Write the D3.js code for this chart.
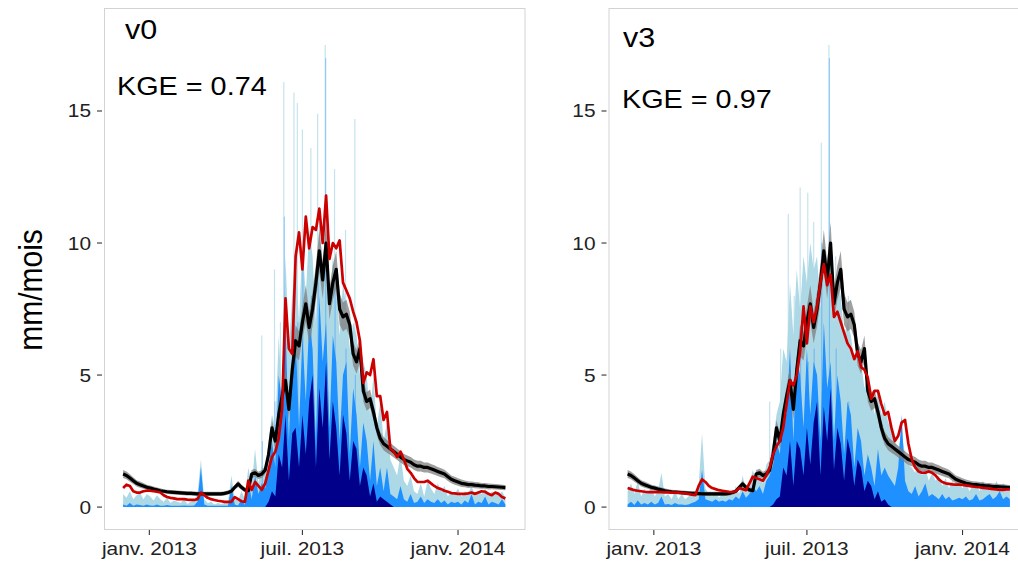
<!DOCTYPE html>
<html><head><meta charset="utf-8">
<script src="https://cdn.jsdelivr.net/npm/d3@7"></script>
<style>body{margin:0;background:#fff} text{font-family:"Liberation Sans",Arial,Helvetica,sans-serif}</style>
</head><body><svg id="c" width="1018" height="562"></svg>
<script>
// ---- data (4-day steps starting 2012-12-01) ----
const startDate = "2012-12-01";
const stepDays = 4;
const xTickDates = ["2013-01-01","2013-07-01","2014-01-01"];
const xTickLabels = ["janv. 2013","juil. 2013","janv. 2014"];
const yTicks = [0,5,10,15];
const panelNames = ["v0","v3"];
const kgeLabels = ["KGE = 0.74","KGE = 0.97"];
const yTitle = "mm/mois";

const obs = [
1.25,1.2,1.1,1.0,0.9,0.85,0.8,0.75,
0.72,0.68,0.65,0.62,0.6,0.58,0.57,0.56,
0.55,0.54,0.53,0.52,0.52,0.51,0.5,
0.5,0.5,0.5,0.5,0.5,0.5,0.5,
0.52,0.55,0.6,0.75,0.88,0.75,0.65,0.62,
1.25,1.3,1.2,1.25,1.4,2.0,3.0,
2.5,3.5,4.2,4.8,3.7,5.2,6.3,6.1,
7.0,7.7,6.8,7.5,8.5,9.7,8.6,10.0,
7.7,8.5,9.0,7.5,7.2,7.3,6.9,5.8,
5.5,6.0,4.4,4.0,4.1,3.6,3.0,2.6,
2.4,2.3,2.2,2.1,2.0,1.9,1.8,
1.75,1.7,1.6,1.55,1.55,1.5,1.5,
1.45,1.4,1.35,1.3,1.25,1.15,1.05,1.0,
0.95,0.9,0.88,0.85,0.85,0.83,0.82,0.8,
0.8,0.78,0.78,0.77,0.76,0.75,0.74];

const obsSpread = [
0.15,0.15,0.14,0.13,0.12,0.12,0.11,0.1,
0.1,0.1,0.09,0.09,0.08,0.08,0.08,0.08,
0.08,0.08,0.08,0.08,0.08,0.08,0.08,
0.08,0.08,0.08,0.08,0.08,0.08,0.08,
0.08,0.08,0.08,0.09,0.12,0.1,0.09,0.09,
0.15,0.15,0.14,0.15,0.16,0.22,0.3,
0.28,0.35,0.4,0.45,0.38,0.5,0.6,0.55,
0.6,0.7,0.6,0.65,0.7,0.8,0.7,0.8,
0.6,0.65,0.7,0.6,0.55,0.55,0.5,0.45,
0.45,0.5,0.4,0.35,0.35,0.3,0.28,0.25,
0.25,0.24,0.23,0.22,0.22,0.21,0.21,
0.2,0.2,0.2,0.2,0.2,0.19,0.19,
0.18,0.18,0.17,0.17,0.16,0.16,0.15,0.15,
0.14,0.14,0.13,0.13,0.12,0.12,0.12,0.11,
0.11,0.11,0.1,0.1,0.1,0.1,0.1];

const simV0 = [
0.72,0.85,0.8,0.6,0.55,0.55,0.6,0.62,
0.62,0.6,0.58,0.55,0.45,0.38,0.35,0.33,
0.3,0.3,0.3,0.28,0.27,0.27,0.3,
0.55,0.45,0.35,0.3,0.27,0.24,0.22,
0.2,0.2,0.2,0.38,0.3,0.22,0.2,1.0,
0.65,0.95,0.8,0.65,0.9,1.4,1.9,
2.1,2.6,3.7,7.9,6.0,5.8,9.5,10.4,
9.0,11.0,9.8,10.6,10.5,11.3,10.0,11.8,
9.4,10.0,9.8,10.1,8.5,8.2,7.9,7.4,
7.0,6.3,4.7,5.1,5.0,5.6,4.2,4.2,
3.3,3.6,2.2,2.1,1.9,2.1,1.8,
1.45,1.3,1.1,0.95,0.95,0.95,1.0,
0.9,0.8,0.72,0.68,0.62,0.58,0.53,0.52,
0.5,0.5,0.5,0.52,0.55,0.5,0.55,0.6,
0.58,0.5,0.45,0.55,0.5,0.38,0.33];

const simV3 = [
0.72,0.68,0.64,0.62,0.6,0.58,0.57,0.57,
0.57,0.57,0.57,0.56,0.56,0.55,0.55,0.55,
0.54,0.52,0.5,0.47,0.45,0.8,1.05,
0.95,0.8,0.72,0.68,0.64,0.62,0.6,
0.58,0.57,0.6,0.72,0.68,0.64,0.9,1.15,
1.1,1.05,1.0,1.2,1.5,2.0,2.3,
2.5,3.0,3.9,4.8,4.6,5.0,5.9,7.6,
6.2,7.6,7.0,7.6,8.5,9.2,8.4,8.8,
7.2,7.4,7.0,6.6,6.2,6.0,5.6,5.9,
5.3,5.2,4.9,4.1,4.4,4.4,3.9,3.5,
3.6,3.0,2.5,2.7,3.2,3.3,2.4,
1.8,1.5,1.35,1.3,1.3,1.35,1.3,
1.2,1.05,0.95,0.9,0.88,0.86,0.85,0.85,
0.84,0.82,0.8,0.78,0.76,0.75,0.73,0.72,
0.7,0.68,0.67,0.65,0.65,0.67,0.67];

const lightV0 = [
0.5,0.35,0.6,0.3,0.45,0.55,0.3,0.5,
0.4,0.25,0.45,0.3,0.2,0.35,0.15,0.25,
0.2,0.15,0.3,0.12,0.2,0.25,0.5,
1.8,0.3,0.15,0.2,0.1,0.15,0.12,
0.15,0.2,1.2,0.3,0.25,0.6,0.3,1.5,
0.8,2.2,0.9,1.6,1.2,2.5,3.5,
3.0,6.5,4.0,9.5,6.0,8.0,9.5,7.0,
10.0,8.0,10.5,9.5,7.0,11.0,9.0,10.5,
7.5,9.5,8.5,6.5,8.5,7.5,6.0,7.0,
6.5,5.0,5.5,5.0,3.5,5.0,3.0,4.0,
2.5,3.2,1.8,1.5,1.2,2.0,1.0,
0.8,1.2,0.6,0.5,0.9,0.4,1.0,
0.7,0.5,0.9,0.6,0.8,0.4,0.6,0.5,
0.7,0.4,0.6,0.5,0.8,0.4,0.6,0.5,
0.7,0.4,0.6,0.5,0.45,0.6,0.35];

const dodgerV0 = [
0.1,0.05,0.15,0.05,0.1,0.08,0.05,0.1,
0.06,0.05,0.1,0.05,0.05,0.08,0.05,0.05,
0.05,0.05,0.06,0.05,0.05,0.06,0.2,
1.5,0.1,0.05,0.05,0.05,0.05,0.05,
0.05,0.05,0.8,0.1,0.06,0.3,0.08,1.0,
0.3,1.2,0.5,0.9,0.7,1.5,2.5,
1.5,5.0,4.0,7.0,2.5,6.0,6.5,3.0,
6.5,4.0,7.0,6.0,2.5,8.0,5.5,7.0,
3.0,6.5,5.5,2.5,5.0,5.5,2.0,4.5,
3.5,1.5,3.2,2.5,1.0,2.5,0.8,1.5,
0.6,1.5,0.5,0.4,0.3,0.8,0.3,
0.2,0.5,0.15,0.2,0.4,0.15,0.3,
0.2,0.15,0.3,0.15,0.25,0.1,0.2,0.15,
0.2,0.1,0.25,0.15,0.5,0.1,0.2,0.15,
0.4,0.1,0.2,0.15,0.1,0.3,0.1];

const navyV0 = [
0,0,0,0,0,0,0,0,
0,0,0,0,0,0,0,0,
0,0,0,0,0,0,0,
0,0,0,0,0,0,0,
0,0,0,0,0,0,0,0,
0,0,0,0,0,0.2,0.6,
0.4,2.0,1.5,3.5,1.0,2.8,3.0,1.5,
3.5,2.0,4.0,5.0,1.5,4.5,3.0,5.5,
1.8,4.0,3.0,1.2,3.5,2.8,1.0,2.5,
2.2,0.8,1.5,1.2,0.4,0.9,0.2,0.4,
0.3,0.2,0.1,0,0,0,0,
0,0,0,0,0,0,0,
0,0,0,0,0,0,0,0,
0,0,0,0,0,0,0,0,
0,0,0,0,0,0,0];

const lightV3 = [
0.6,0.9,0.5,1.0,0.4,0.7,0.5,0.8,
0.4,0.6,1.3,0.4,0.5,0.3,0.6,0.3,
0.5,0.3,0.4,0.6,0.35,0.8,2.8,
0.7,0.5,0.4,0.6,0.35,0.5,0.4,
0.6,0.45,0.8,0.5,1.2,0.6,0.9,1.4,
1.0,1.3,0.9,1.6,1.8,2.5,3.5,
4.0,6.0,5.5,8.5,6.5,9.0,7.5,9.5,
8.5,10.0,9.0,9.5,7.5,10.0,9.0,9.5,
7.0,8.5,8.0,6.5,7.0,6.5,5.5,6.0,
5.5,4.5,5.0,4.5,3.5,4.5,3.5,4.0,
3.2,3.0,2.5,2.2,2.8,2.0,1.6,
1.5,1.3,1.8,1.2,1.5,1.0,1.3,
1.0,1.2,0.8,1.1,0.7,1.0,0.8,0.9,
0.7,1.0,0.6,0.8,0.9,0.6,1.0,0.7,
0.8,0.6,1.0,0.7,0.9,0.8,0.6];

const dodgerV3 = [
0.1,0.2,0.08,0.25,0.1,0.15,0.1,0.2,
0.1,0.15,0.4,0.1,0.12,0.08,0.15,0.1,
0.1,0.08,0.1,0.15,0.2,0.3,1.4,
0.3,0.25,0.2,0.3,0.2,0.25,0.2,
0.3,0.25,0.4,0.3,0.6,0.35,0.5,0.8,
0.6,0.8,0.5,1.0,1.2,1.6,2.5,
2.0,3.8,3.5,6.0,2.5,5.5,5.0,3.0,
6.0,3.5,5.5,5.0,2.5,7.0,4.5,5.5,
2.5,5.0,4.0,2.0,4.0,3.5,1.5,3.0,
2.5,1.2,2.0,1.5,0.8,2.2,1.2,1.5,
1.2,1.0,0.8,1.5,3.5,1.0,0.6,
0.5,0.8,0.4,0.6,0.9,0.4,0.5,
0.4,0.3,0.5,0.3,0.4,0.25,0.3,0.35,
0.3,0.4,0.25,0.3,0.5,0.25,0.3,0.4,
0.5,0.3,0.4,0.6,0.3,0.4,0.3];

const navyV3 = [
0,0,0,0,0,0,0,0,
0,0,0,0,0,0,0,0,
0,0,0,0,0,0,0,
0,0,0,0,0,0,0,
0,0,0,0,0,0,0,0,
0,0,0,0,0,0.1,0.3,
0.4,1.5,1.2,2.5,0.8,2.5,2.2,1.2,
3.0,1.6,3.2,4.0,1.2,3.8,2.5,4.5,
1.4,3.0,2.4,1.0,2.6,2.0,0.8,1.8,
1.5,0.6,1.0,0.8,0.3,0.6,0.2,0.3,
0.1,0,0,0,0,0,0,
0,0,0,0,0,0,0,
0,0,0,0,0,0,0,0,
0,0,0,0,0,0,0,0,
0,0,0,0,0,0,0];

// thin daily peaks (faint spikes)
const spikeDatesV0 = ["2013-05-14","2013-05-29","2013-06-05","2013-06-09","2013-06-21","2013-06-25","2013-07-01","2013-07-11","2013-07-19","2013-07-28","2013-08-08","2013-08-21","2013-09-01"];
const spikeLightV0 = [6.5,9.0,7.0,16.1,15.7,15.3,14.3,13.6,14.9,17.5,12.8,10.5,14.7];
const spikeDodgerV0 = [2.5,4.0,3.5,11.0,8.0,7.0,9.0,8.0,8.5,17.0,9.0,6.0,5.0];
const spikeDatesV3 = ["2013-05-18","2013-05-31","2013-06-09","2013-06-16","2013-06-23","2013-07-02","2013-07-09","2013-07-18","2013-07-27","2013-08-04","2013-08-19"];
const spikeLightV3 = [4.0,6.0,11.1,8.0,12.1,11.9,10.8,13.8,17.5,9.5,8.0];
const spikeDodgerV3 = [1.5,3.0,5.0,4.0,6.0,5.5,6.0,10.0,17.0,6.0,4.0];

// ---- drawing ----
const parse = d3.utcParse("%Y-%m-%d");
const t0 = parse(startDate);
const dates = obs.map((_, i) => d3.utcDay.offset(t0, i * stepDays));
const svg = d3.select("#c");
const SX = 1.13; // horizontal stretch of the reference text

const panelW = 420.5, panelTop = 8, panelBottom = 529;
const panels = [
  {x0: 104, name: panelNames[0], kge: kgeLabels[0], sim: simV0, light: lightV0, dodger: dodgerV0, navy: navyV0,
   sd: spikeDatesV0, sl: spikeLightV0, sdg: spikeDodgerV0, nameY: 39, kgeY: 95, nameX: 125, kgeX: 117},
  {x0: 608.5, name: panelNames[1], kge: kgeLabels[1], sim: simV3, light: lightV3, dodger: dodgerV3, navy: navyV3,
   sd: spikeDatesV3, sl: spikeLightV3, sdg: spikeDodgerV3, nameY: 47, kgeY: 108, nameX: 623, kgeX: 622}
];

const ext = d3.extent(dates);
const span = ext[1] - ext[0];
const xDomain = [new Date(+ext[0] - 0.05 * span), new Date(+ext[1] + 0.05 * span)];
const y = d3.scaleLinear().domain([-0.83, 18.9]).range([panelBottom, panelTop]);

const cLight = "#ADD8E6", cDodger = "#1E90FF", cNavy = "#00008B", cRed = "#CD0000";

function stext(parent, x, yy, str, size, anchor, fill) {
  return parent.append("text").attr("transform", `translate(${x},${yy}) scale(${SX},1)`)
    .attr("text-anchor", anchor).attr("font-size", size).attr("fill", fill).text(str);
}

panels.forEach((p, k) => {
  const x = d3.scaleUtc().domain(xDomain).range([p.x0, p.x0 + panelW]);
  const g = svg.append("g");
  const clipId = "clip" + k;
  svg.append("clipPath").attr("id", clipId).append("rect")
    .attr("x", p.x0).attr("y", panelTop).attr("width", panelW).attr("height", panelBottom - panelTop);
  const pg = g.append("g").attr("clip-path", `url(#${clipId})`);

  const area = arr => d3.area().x((d, i) => x(dates[i])).y0(y(0)).y1(d => y(d))(arr);
  pg.append("path").attr("d", area(p.light)).attr("fill", cLight);
  p.sd.forEach((ds, j) => {
    const xx = x(parse(ds));
    pg.append("line").attr("x1", xx).attr("x2", xx).attr("y1", y(0)).attr("y2", y(p.sl[j]))
      .attr("stroke", cLight).attr("stroke-width", 1.2).attr("opacity", 0.7);
    pg.append("line").attr("x1", xx + 0.5).attr("x2", xx + 0.5).attr("y1", y(0)).attr("y2", y(p.sdg[j]))
      .attr("stroke", cDodger).attr("stroke-width", 0.9).attr("opacity", 0.5);
  });
  pg.append("path").attr("d", area(p.dodger)).attr("fill", cDodger);
  pg.append("path").attr("d", area(p.navy)).attr("fill", cNavy);

  const ribbon = d3.area().x((d, i) => x(dates[i]))
    .y0((d, i) => y(d - obsSpread[i])).y1((d, i) => y(d + obsSpread[i]));
  pg.append("path").attr("d", ribbon(obs)).attr("fill", "#7f7f7f").attr("opacity", 0.75);
  const line = d3.line().x((d, i) => x(dates[i])).y(d => y(d));
  pg.append("path").attr("d", line(obs)).attr("fill", "none").attr("stroke", "#000").attr("stroke-width", 3.2).attr("stroke-linejoin", "round");
  pg.append("path").attr("d", line(p.sim)).attr("fill", "none").attr("stroke", cRed).attr("stroke-width", 2.7).attr("stroke-linejoin", "round");

  g.append("rect").attr("x", p.x0 + 0.5).attr("y", panelTop + 0.5).attr("width", panelW).attr("height", panelBottom - panelTop)
    .attr("fill", "none").attr("stroke", "#d3d3d3").attr("stroke-width", 1);

  yTicks.forEach(v => {
    g.append("line").attr("x1", p.x0 - 7).attr("x2", p.x0 - 2).attr("y1", y(v)).attr("y2", y(v))
      .attr("stroke", "#333").attr("stroke-width", 1.1);
    stext(g, p.x0 - 13, y(v) + 6.5, v, 18.5, "end", "#222");
  });
  xTickDates.forEach((ds, j) => {
    const xx = x(parse(ds));
    g.append("line").attr("x1", xx).attr("x2", xx).attr("y1", panelBottom + 1).attr("y2", panelBottom + 6)
      .attr("stroke", "#333").attr("stroke-width", 1.1);
    stext(g, xx, 555, xTickLabels[j], 18.5, "middle", "#222");
  });
  stext(g, p.nameX, p.nameY, p.name, 27, "start", "#000");
  stext(g, p.kgeX, p.kgeY, p.kge, 25.5, "start", "#000");
});

svg.append("text").attr("transform", `translate(42,290) rotate(-90) scale(1,${SX})`).attr("text-anchor", "middle")
  .attr("font-size", 30).attr("fill", "#000").text(yTitle);
</script></body></html>
